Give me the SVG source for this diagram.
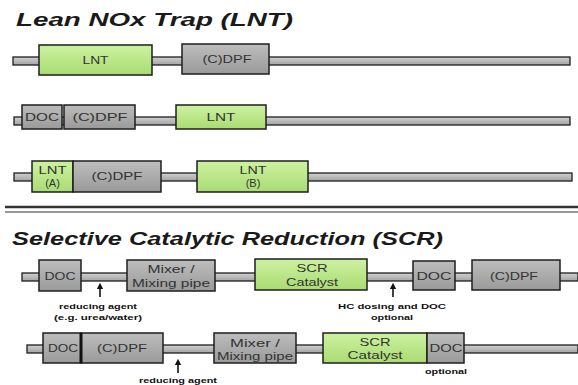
<svg xmlns="http://www.w3.org/2000/svg" width="578" height="385" viewBox="0 0 578 385">
<defs>
<linearGradient id="gG" x1="0" y1="0" x2="0" y2="1"><stop offset="0" stop-color="#cdf2a0"/><stop offset="1" stop-color="#a9db73"/></linearGradient>
<linearGradient id="gY" x1="0" y1="0" x2="0" y2="1"><stop offset="0" stop-color="#bdbdbd"/><stop offset="1" stop-color="#9a9a9a"/></linearGradient>
<linearGradient id="gP" x1="0" y1="0" x2="0" y2="1"><stop offset="0" stop-color="#d0d0d0"/><stop offset="1" stop-color="#a4a4a4"/></linearGradient>
<marker id="ah" viewBox="0 0 10 10" refX="5" refY="5" markerWidth="4" markerHeight="4" orient="auto"><path d="M0,0 L10,5 L0,10 z" fill="#111"/></marker>
</defs>
<style>
.t{font-family:"Liberation Sans",Arial,sans-serif;font-weight:bold;font-style:italic;font-size:18px;fill:#1a1a1a}
.pipe{fill:url(#gP);stroke:#1e1e1e;stroke-width:1.3}
.g{fill:url(#gG);stroke:#1e1e1e;stroke-width:1.5}
.y{fill:url(#gY);stroke:#1e1e1e;stroke-width:1.5}
.l{font-family:"Liberation Sans",Arial,sans-serif;font-size:11px;fill:#333;text-anchor:middle}
.s{font-family:"Liberation Sans",Arial,sans-serif;font-size:7px;font-weight:bold;fill:#111;text-anchor:middle}
.a{stroke:#111;stroke-width:1.6;fill:none;marker-end:url(#ah)}
</style>
<rect width="578" height="385" fill="#fff"/>
<text class="t" x="16" y="26" textLength="277" lengthAdjust="spacingAndGlyphs">Lean NOx Trap (LNT)</text>
<text class="t" x="12" y="245" textLength="431" lengthAdjust="spacingAndGlyphs">Selective Catalytic Reduction (SCR)</text>
<line x1="5" y1="207" x2="578" y2="207" stroke="#333" stroke-width="2.5"/>
<line x1="5" y1="212" x2="578" y2="212" stroke="#333" stroke-width="1.2"/>

<g id="connectors">
<rect class="pipe" x="13" y="57" width="557" height="8"/>
<rect class="pipe" x="14" y="117" width="556" height="8"/>
<rect class="pipe" x="14" y="173" width="558" height="8"/>
<rect class="pipe" x="22" y="273" width="556" height="8"/>
<rect class="pipe" x="27" y="345" width="551" height="8"/>
<line class="a" x1="100" y1="297" x2="100" y2="286"/>
<line class="a" x1="393" y1="297" x2="393" y2="286"/>
<line class="a" x1="178" y1="373" x2="178" y2="362"/>
</g>

<g id="r1-lnt"><rect class="g" x="39" y="45" width="113" height="30"/><text class="l" x="95.5" y="64" textLength="26" lengthAdjust="spacingAndGlyphs">LNT</text></g>
<g id="r1-dpf"><rect class="y" x="182" y="44" width="87" height="30"/><text class="l" x="227" y="63" textLength="49" lengthAdjust="spacingAndGlyphs">(C)DPF</text></g>

<g id="r2-doc"><rect class="y" x="22" y="105" width="40" height="24"/><text class="l" x="42" y="121" textLength="34" lengthAdjust="spacingAndGlyphs">DOC</text></g>
<g id="r2-dpf"><rect class="y" x="64" y="105" width="71" height="24"/><text class="l" x="100" y="121" textLength="55" lengthAdjust="spacingAndGlyphs">(C)DPF</text></g>
<g id="r2-lnt"><rect class="g" x="176" y="105" width="90" height="24"/><text class="l" x="221" y="121" textLength="29" lengthAdjust="spacingAndGlyphs">LNT</text></g>

<g id="r3-lnta"><rect class="g" x="32" y="161" width="41" height="31"/><text class="l" x="52.5" y="174" textLength="28" lengthAdjust="spacingAndGlyphs">LNT</text><text class="l" x="52.5" y="187">(A)</text></g>
<g id="r3-dpf"><rect class="y" x="73" y="161" width="88" height="31"/><text class="l" x="117" y="180" textLength="51" lengthAdjust="spacingAndGlyphs">(C)DPF</text></g>
<g id="r3-lntb"><rect class="g" x="197" y="161" width="111" height="31"/><text class="l" x="253" y="174" textLength="27" lengthAdjust="spacingAndGlyphs">LNT</text><text class="l" x="253" y="187">(B)</text></g>

<g id="s1-doc"><rect class="y" x="39" y="260" width="42" height="31"/><text class="l" x="60" y="280" textLength="31" lengthAdjust="spacingAndGlyphs">DOC</text></g>
<g id="s1-mix"><rect class="y" x="127" y="260" width="88" height="31"/><text class="l" x="171" y="273" textLength="47" lengthAdjust="spacingAndGlyphs">Mixer /</text><text class="l" x="171" y="287" textLength="78" lengthAdjust="spacingAndGlyphs">Mixing pipe</text></g>
<g id="s1-scr"><rect class="g" x="255" y="259" width="112" height="31"/><text class="l" x="312" y="272" textLength="31" lengthAdjust="spacingAndGlyphs">SCR</text><text class="l" x="312" y="286" textLength="52" lengthAdjust="spacingAndGlyphs">Catalyst</text></g>
<g id="s1-doc2"><rect class="y" x="413" y="261" width="42" height="29"/><text class="l" x="434" y="280" textLength="35" lengthAdjust="spacingAndGlyphs">DOC</text></g>
<g id="s1-dpf"><rect class="y" x="472" y="260" width="88" height="30"/><text class="l" x="514" y="280" textLength="48" lengthAdjust="spacingAndGlyphs">(C)DPF</text></g>

<g id="s2-doc"><rect class="y" x="43" y="333" width="38" height="30"/><text class="l" x="63" y="352" textLength="30" lengthAdjust="spacingAndGlyphs">DOC</text></g>
<g id="s2-dpf"><rect class="y" x="81" y="333" width="82" height="30"/><text class="l" x="122" y="352" textLength="50" lengthAdjust="spacingAndGlyphs">(C)DPF</text></g>
<line x1="81" y1="333" x2="81" y2="363" stroke="#111" stroke-width="3"/>
<g id="s2-mix"><rect class="y" x="214" y="333" width="82" height="30"/><text class="l" x="255" y="347" textLength="50" lengthAdjust="spacingAndGlyphs">Mixer /</text><text class="l" x="255" y="360" textLength="76" lengthAdjust="spacingAndGlyphs">Mixing pipe</text></g>
<g id="s2-scr"><rect class="g" x="323" y="333" width="104" height="30"/><text class="l" x="375" y="346" textLength="31" lengthAdjust="spacingAndGlyphs">SCR</text><text class="l" x="375" y="359" textLength="55" lengthAdjust="spacingAndGlyphs">Catalyst</text></g>
<g id="s2-doc2"><rect class="y" x="427" y="333" width="37" height="30"/><text class="l" x="446" y="352" textLength="33" lengthAdjust="spacingAndGlyphs">DOC</text></g>

<text class="s" x="98" y="309" textLength="78" lengthAdjust="spacingAndGlyphs">reducing agent</text>
<text class="s" x="98" y="320" textLength="88" lengthAdjust="spacingAndGlyphs">(e.g. urea/water)</text>
<text class="s" x="392" y="309" textLength="108" lengthAdjust="spacingAndGlyphs">HC dosing and DOC</text>
<text class="s" x="392" y="320" textLength="42" lengthAdjust="spacingAndGlyphs">optional</text>
<text class="s" x="446" y="374" textLength="42" lengthAdjust="spacingAndGlyphs">optional</text>
<text class="s" x="178" y="383" textLength="78" lengthAdjust="spacingAndGlyphs">reducing agent</text>
</svg>
